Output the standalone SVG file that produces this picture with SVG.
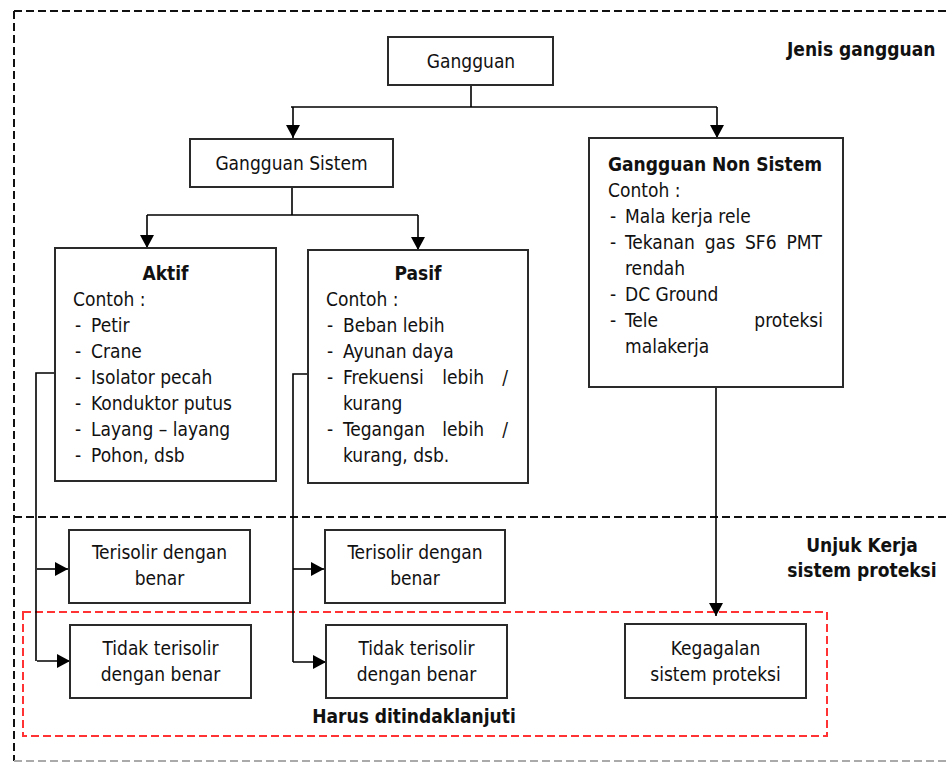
<svg xmlns="http://www.w3.org/2000/svg" width="947" height="762" viewBox="0 0 947 762">
<style>
text{font-family:"DejaVu Sans Condensed","DejaVu Sans",sans-serif;font-size:19px;fill:#111}
.b{font-weight:bold}
.c{text-anchor:middle}
.e{text-anchor:end}
.box{fill:#fff;stroke:#2a2a2a;stroke-width:2}
.ln{fill:none;stroke:#000;stroke-width:1.6}
.dash{fill:none;stroke:#111;stroke-width:2;stroke-dasharray:8 4}
</style>
<defs>
<marker id="ah" markerUnits="userSpaceOnUse" markerWidth="15" markerHeight="15" refX="13" refY="7" orient="auto">
<path d="M0,0 L13,7 L0,14 z" fill="#000"/>
</marker>
</defs>
<g id="frames">
<path class="dash" d="M14,11 H947"/>
<path class="dash" d="M14,11 V761"/>
<path d="M14,761 H947" fill="none" stroke="#aaa" stroke-width="2" stroke-dasharray="8 4"/>
<path class="dash" d="M14,517 H947"/>
<rect x="23" y="612" width="804" height="124" fill="none" stroke="#ff3333" stroke-width="2" stroke-dasharray="8 4"/>
</g>
<g id="connectors">
<path class="ln" d="M471,85 V107 M291,107 H717 M292,187 V215 M147,215 H418"/>
<path class="ln" d="M293,107 V138" marker-end="url(#ah)"/>
<path class="ln" d="M717,107 V138" marker-end="url(#ah)"/>
<path class="ln" d="M147,215 V248" marker-end="url(#ah)"/>
<path class="ln" d="M418,215 V250" marker-end="url(#ah)"/>
<path class="ln" d="M55,373 H36 V661"/>
<path class="ln" d="M37,569 H68" stroke-width="2" marker-end="url(#ah)"/>
<path class="ln" d="M37,661 H70" stroke-width="2" marker-end="url(#ah)"/>
<path class="ln" d="M308,374 H293 V662"/>
<path class="ln" d="M293,569 H324" stroke-width="2" marker-end="url(#ah)"/>
<path class="ln" d="M293,662 H326" stroke-width="2" marker-end="url(#ah)"/>
<path class="ln" d="M716,387 V616" stroke-width="2.6" marker-end="url(#ah)"/>
</g>
<g id="gangguan">
<rect class="box" x="388" y="37" width="165" height="48"/>
<text class="c" x="471" y="68">Gangguan</text>
</g>
<g id="gangguan-sistem">
<rect class="box" x="190" y="139" width="203" height="48"/>
<text class="c" x="291.5" y="170">Gangguan Sistem</text>
</g>
<g id="gangguan-non-sistem">
<rect class="box" x="589" y="138" width="254" height="249"/>
<text class="b" x="608" y="171">Gangguan Non Sistem</text>
<text x="608" y="197">Contoh :</text>
<text x="610" y="223">-</text><text x="625" y="223">Mala kerja rele</text>
<text x="610" y="249">-</text><text x="625" y="249" word-spacing="4.5">Tekanan gas SF6 PMT</text>
<text x="625" y="275">rendah</text>
<text x="610" y="301">-</text><text x="625" y="301">DC Ground</text>
<text x="610" y="327">-</text><text x="625" y="327">Tele</text><text class="e" x="823" y="327">proteksi</text>
<text x="625" y="353">malakerja</text>
</g>
<g id="aktif">
<rect class="box" x="55" y="248" width="221" height="233"/>
<text class="b c" x="165.5" y="280">Aktif</text>
<text x="73" y="306">Contoh :</text>
<text x="75" y="332">-</text><text x="91" y="332">Petir</text>
<text x="75" y="358">-</text><text x="91" y="358">Crane</text>
<text x="75" y="384">-</text><text x="91" y="384">Isolator pecah</text>
<text x="75" y="410">-</text><text x="91" y="410">Konduktor putus</text>
<text x="75" y="436">-</text><text x="91" y="436">Layang – layang</text>
<text x="75" y="462">-</text><text x="91" y="462">Pohon, dsb</text>
</g>
<g id="pasif">
<rect class="box" x="308" y="250" width="220" height="233"/>
<text class="b c" x="418" y="280">Pasif</text>
<text x="326" y="306">Contoh :</text>
<text x="327" y="332">-</text><text x="343" y="332">Beban lebih</text>
<text x="327" y="358">-</text><text x="343" y="358">Ayunan daya</text>
<text x="327" y="384">-</text><text x="343" y="384">Frekuensi</text><text class="e" x="484" y="384">lebih</text><text class="e" x="508" y="384">/</text>
<text x="343" y="410">kurang</text>
<text x="327" y="436">-</text><text x="343" y="436">Tegangan</text><text class="e" x="484" y="436">lebih</text><text class="e" x="508" y="436">/</text>
<text x="343" y="462">kurang, dsb.</text>
</g>
<g id="terisolir-1">
<rect class="box" x="69" y="530" width="181" height="73"/>
<text class="c" x="159.5" y="559">Terisolir dengan</text>
<text class="c" x="159.5" y="585">benar</text>
</g>
<g id="tidak-terisolir-1">
<rect class="box" x="70" y="625" width="181" height="73"/>
<text class="c" x="160.5" y="655">Tidak terisolir</text>
<text class="c" x="160.5" y="681">dengan benar</text>
</g>
<g id="terisolir-2">
<rect class="box" x="325" y="530" width="180" height="73"/>
<text class="c" x="415" y="559">Terisolir dengan</text>
<text class="c" x="415" y="585">benar</text>
</g>
<g id="tidak-terisolir-2">
<rect class="box" x="326" y="625" width="181" height="73"/>
<text class="c" x="416.5" y="655">Tidak terisolir</text>
<text class="c" x="416.5" y="681">dengan benar</text>
</g>
<g id="kegagalan">
<rect class="box" x="625" y="624" width="181" height="74"/>
<text class="c" x="715.5" y="655">Kegagalan</text>
<text class="c" x="715.5" y="681">sistem proteksi</text>
</g>
<g id="labels">
<text class="b" x="787" y="56">Jenis gangguan</text>
<text class="b c" x="862" y="552">Unjuk Kerja</text>
<text class="b c" x="862" y="577">sistem proteksi</text>
<text class="b c" x="414" y="723">Harus ditindaklanjuti</text>
</g>
</svg>
